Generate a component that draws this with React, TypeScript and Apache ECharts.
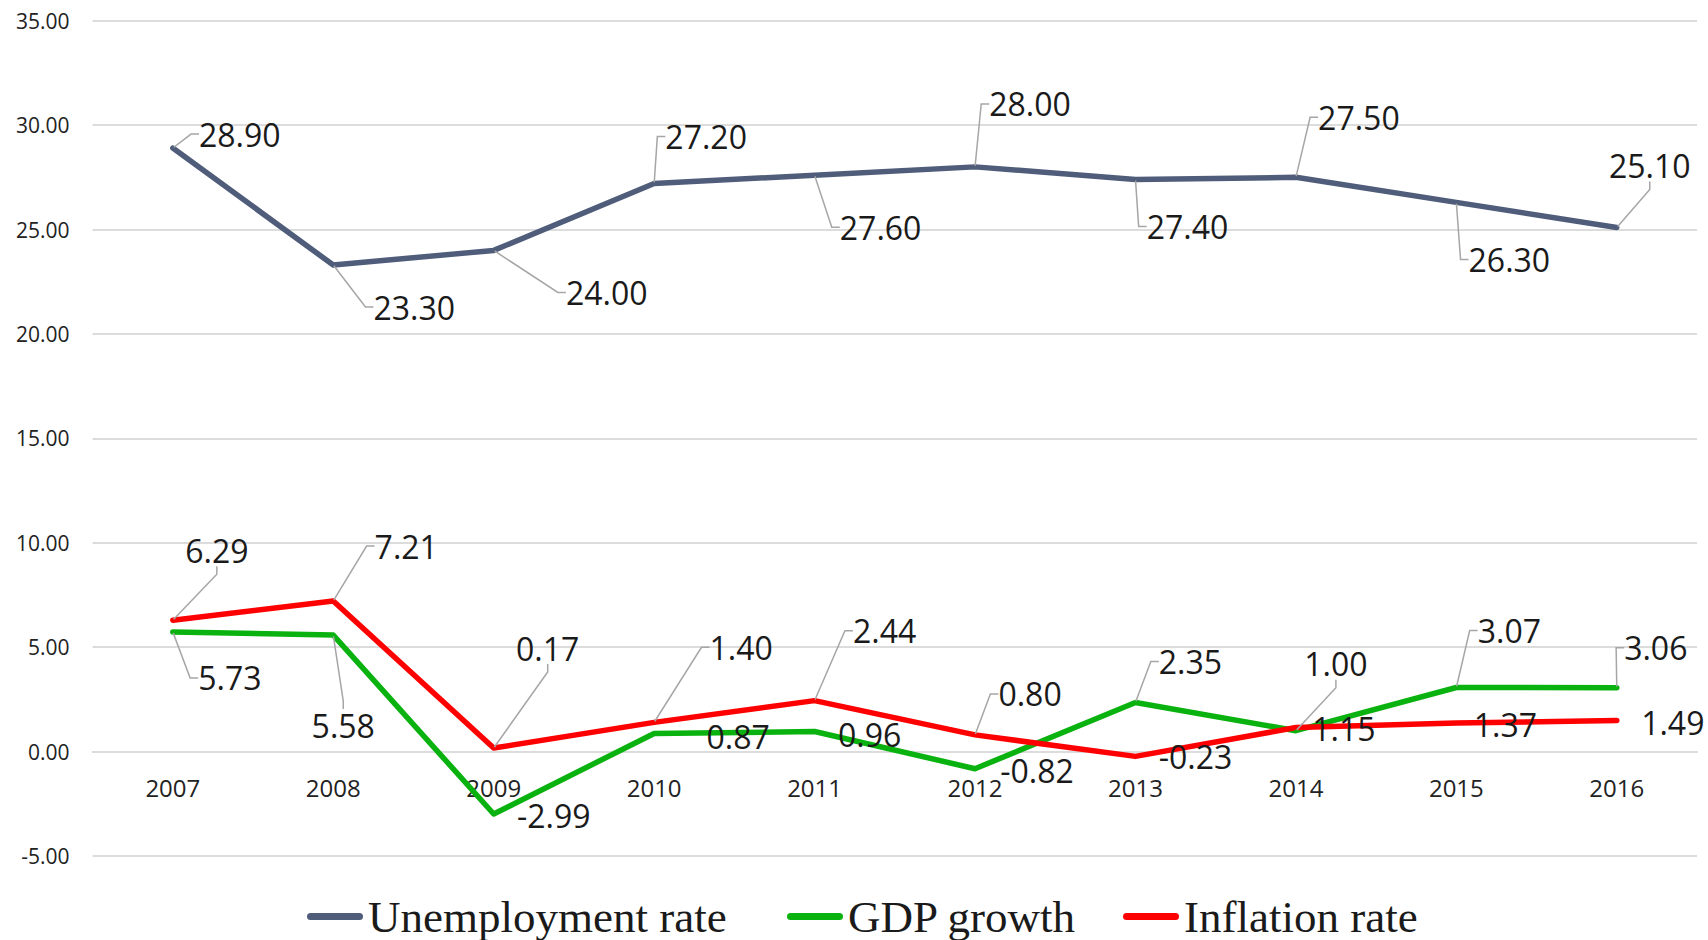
import React, { useEffect, useRef } from "react";
import * as echarts from "echarts";

const years = ["2007", "2008", "2009", "2010", "2011", "2012", "2013", "2014", "2015", "2016"];
const unemployment = [28.9, 23.3, 24.0, 27.2, 27.6, 28.0, 27.4, 27.5, 26.3, 25.1];
const gdpGrowth = [5.73, 5.58, -2.99, 0.87, 0.96, -0.82, 2.35, 1.0, 3.07, 3.06];
const inflation = [6.29, 7.21, 0.17, 1.4, 2.44, 0.8, -0.23, 1.15, 1.37, 1.49];
const seriesNames = ["Unemployment rate", "GDP growth", "Inflation rate"];
const yTicks = { min: -5, max: 35, interval: 5 };

// label offsets (dx, dy) from each point, and whether a leader line is drawn
const unempLabelOffsets = [[67, -14], [81, 42], [113, 42], [52, -47], [66, 52], [55, -63], [52, 47], [63, -60], [53, 57], [33, -62]];
const unempLeaders = [true, true, true, true, true, true, true, true, true, true];
const gdpLabelOffsets = [[57, 46], [10, 90], [60, 1], [84, 3], [55, 3], [62, 2], [55, -41], [40, -67], [53, -57], [39, -40]];
const gdpLeaders = [true, true, false, false, false, false, true, true, true, true];
const inflLabelOffsets = [[44, -70], [73, -55], [54, -100], [87, -75], [70, -70], [55, -41], [60, 0], [48, 1], [49, 2], [56, 2]];
const inflLeaders = [true, true, true, true, true, true, false, false, false, false];

const COLORS = ["#4F5D7A", "#0AB20F", "#FF0000"];
const LEGEND_LEFTS = [302, 782, 1118];
const CAPSULE = "path://M3.5,0 H52.5 A3.5,3.5 0 0 1 52.5,7 H3.5 A3.5,3.5 0 0 1 3.5,0 Z";

const GRID_TOP = 20.7;
const GRID_BOTTOM = 84;
const CHART_H = 940;

export default function App() {
  const ref = useRef<HTMLDivElement>(null);

  useEffect(() => {
    if (!ref.current) return;
    const chart = echarts.init(ref.current, null, { renderer: "svg" });

    const offsets = [unempLabelOffsets, gdpLabelOffsets, inflLabelOffsets];

    const mkData = (vals: number[], leaders: boolean[]) =>
      vals.map((v, i) => ({ value: v, labelLine: { show: leaders[i] } }));

    const mkSeries = (name: string, vals: number[], leaders: boolean[], color: string) => ({
      name,
      type: "line",
      data: mkData(vals, leaders),
      symbol: "circle",
      symbolSize: 2,
      showSymbol: true,
      itemStyle: { color },
      lineStyle: { color, width: 5.5, cap: "round", join: "round" },
      label: {
        show: true,
        position: "inside",
        formatter: (p: any) => Number(p.value).toFixed(2),
        fontFamily: "Open Sans",
        fontSize: 32,
        color: "#1a1a1a",
      },
      labelLine: {
        show: true,
        length2: 8,
        lineStyle: { color: "#A6A6A6", width: 1.5 },
      },
      emphasis: { disabled: true },
    });

    // move the category axis up to the zero line of the value axis
    const plotH = CHART_H - GRID_TOP - GRID_BOTTOM;
    const zeroShift = (plotH * (0 - yTicks.min)) / (yTicks.max - yTicks.min);

    chart.setOption({
      animation: false,
      backgroundColor: "#ffffff",
      grid: { left: 92.6, right: 11, top: GRID_TOP, bottom: GRID_BOTTOM, containLabel: false },
      xAxis: {
        type: "category",
        data: years,
        boundaryGap: true,
        offset: -zeroShift,
        axisLine: { show: true, onZero: false, lineStyle: { color: "#DCDCDC", width: 2 } },
        axisTick: { show: false },
        axisLabel: { fontFamily: "Open Sans", fontSize: 24, color: "#222", margin: 24 },
        splitLine: { show: false },
      },
      yAxis: {
        type: "value",
        min: yTicks.min,
        max: yTicks.max,
        interval: yTicks.interval,
        axisLine: { show: false },
        axisTick: { show: false },
        axisLabel: {
          fontFamily: "Open Sans",
          fontSize: 21,
          color: "#222",
          margin: 23,
          formatter: (v: number) => v.toFixed(2),
        },
        splitLine: { lineStyle: { color: "#DCDCDC", width: 2 } },
      },
      legend: seriesNames.map((n, i) => ({
        top: 889,
        left: LEGEND_LEFTS[i],
        itemWidth: 56,
        itemHeight: 7,
        icon: CAPSULE,
        textStyle: { fontFamily: "Liberation Serif", fontSize: 45, color: "#1a1a1a" },
        data: [n],
      })),
      labelLayout: (params: any) => {
        const off = offsets[params.seriesIndex][params.dataIndex];
        return { dx: off[0], dy: off[1] };
      },
      series: [
        mkSeries(seriesNames[0], unemployment, unempLeaders, COLORS[0]),
        mkSeries(seriesNames[1], gdpGrowth, gdpLeaders, COLORS[1]),
        mkSeries(seriesNames[2], inflation, inflLeaders, COLORS[2]),
      ],
    });

    return () => chart.dispose();
  }, []);

  return (
    <div
      ref={ref}
      style={{ position: "fixed", left: 0, top: 0, width: 1708, height: 940, background: "#fff" }}
    />
  );
}
